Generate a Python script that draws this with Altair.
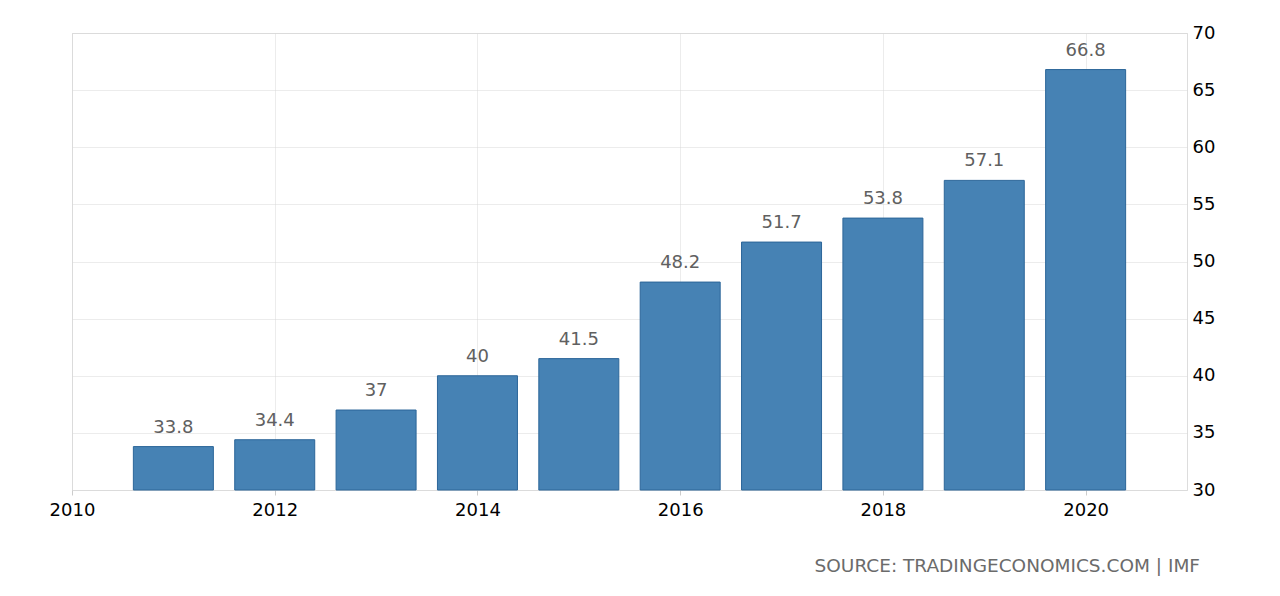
import altair as alt
import pandas as pd

years = [2011, 2012, 2013, 2014, 2015, 2016, 2017, 2018, 2019, 2020]
values = [33.8, 34.4, 37.0, 40.0, 41.5, 48.2, 51.7, 53.8, 57.1, 66.8]
labels = ["33.8", "34.4", "37", "40", "41.5", "48.2", "51.7", "53.8", "57.1", "66.8"]
x_ticks = [2010, 2012, 2014, 2016, 2018, 2020]
y_ticks = [30, 35, 40, 45, 50, 55, 60, 65, 70]
source_text = "SOURCE: TRADINGECONOMICS.COM | IMF"

df = pd.DataFrame({"year": years, "value": values, "label": labels})

FONT = "DejaVu Sans"

x_enc = alt.X(
    "year:Q",
    scale=alt.Scale(domain=[2010, 2021], nice=False, zero=False, padding=0),
    axis=alt.Axis(
        values=x_ticks, format="d", title=None, labelFont=FONT, labelFontSize=18,
        labelColor="#000000", labelPadding=6, labelFlush=False, tickSize=5,
        tickColor="#cccccc", domain=False, grid=True, gridColor="#d9d9d9",
        gridDash=[1, 1],
    ),
)
y_enc = alt.Y(
    "value:Q",
    scale=alt.Scale(domain=[30, 70], nice=False, zero=False),
    axis=alt.Axis(
        orient="right", values=y_ticks, title=None, labelFont=FONT, labelFontSize=18,
        labelColor="#000000", labelPadding=5, labelFlush=False, ticks=False,
        domain=False, grid=True, gridColor="#d9d9d9", gridDash=[1, 1],
    ),
)

base = alt.Chart(df)

bars = base.mark_bar(size=80, color="#4682b4", stroke="#2c6699", strokeWidth=1).encode(
    x=x_enc, y=y_enc, y2=alt.datum(30)
)

text = base.mark_text(
    font=FONT, fontSize=18, color="#606060", baseline="alphabetic", dy=-14
).encode(x="year:Q", y="value:Q", text="label:N")

src = alt.Chart(pd.DataFrame({"t": [source_text]})).mark_text(
    font=FONT, fontSize=18.5, color="#6b6b6b", align="right", baseline="alphabetic",
).encode(x=alt.value(1128), y=alt.value(539), text="t:N")

chart = alt.layer(bars, text, src).properties(
    width=1115, height=457,
    autosize=alt.AutoSizeParams(type="none"),
    padding={"left": 64, "top": 25, "right": 85, "bottom": 98},
).configure_view(stroke=None).configure(background="white")

chart.save("out.html", embed_options={"renderer": "svg", "actions": False})
